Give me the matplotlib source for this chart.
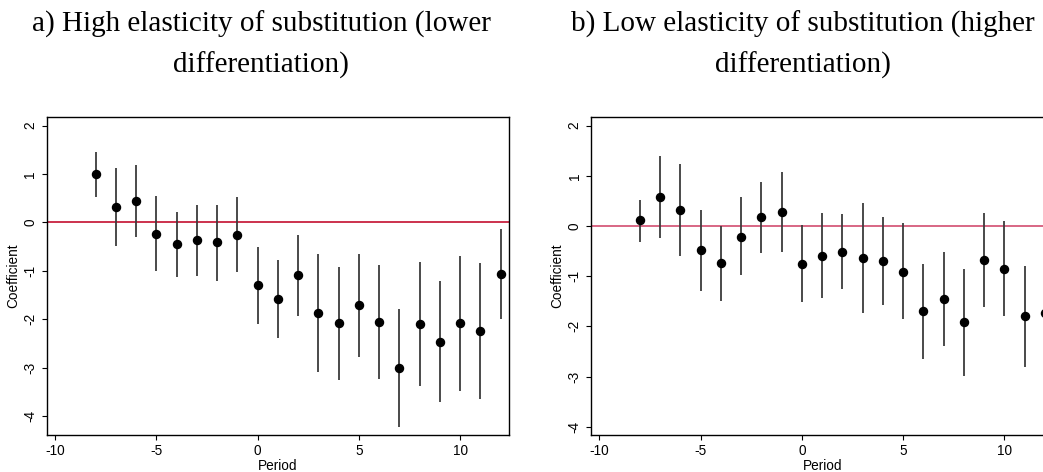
import matplotlib
matplotlib.use("Agg")
import matplotlib.pyplot as plt
import numpy as np

# Event-study periods
periods = list(range(-8, 13))

# a) High elasticity of substitution
coef_a = [0.99, 0.32, 0.44, -0.23, -0.45, -0.37, -0.41, -0.25, -1.30, -1.58, -1.09,
          -1.86, -2.08, -1.71, -2.05, -3.01, -2.10, -2.46, -2.08, -2.24, -1.06]
upper_a = [1.445, 1.13, 1.19, 0.54, 0.22, 0.36, 0.37, 0.52, -0.51, -0.77, -0.25,
           -0.65, -0.92, -0.66, -0.87, -1.79, -0.82, -1.20, -0.69, -0.84, -0.13]
lower_a = [0.53, -0.48, -0.30, -1.01, -1.13, -1.11, -1.20, -1.03, -2.09, -2.38, -1.93,
           -3.08, -3.25, -2.77, -3.23, -4.22, -3.38, -3.70, -3.47, -3.64, -1.99]

# b) Low elasticity of substitution
coef_b = [0.11, 0.58, 0.31, -0.48, -0.74, -0.21, 0.18, 0.27, -0.75, -0.59, -0.51,
          -0.64, -0.70, -0.91, -1.70, -1.46, -1.92, -0.68, -0.85, -1.80, -1.74]
upper_b = [0.52, 1.39, 1.23, 0.32, 0.00, 0.57, 0.88, 1.08, 0.02, 0.25, 0.24,
           0.46, 0.18, 0.05, -0.76, -0.52, -0.86, 0.26, 0.09, -0.79, -0.80]
lower_b = [-0.31, -0.24, -0.60, -1.29, -1.49, -0.98, -0.53, -0.52, -1.51, -1.43, -1.26,
           -1.74, -1.58, -1.86, -2.64, -2.40, -2.98, -1.62, -1.79, -2.80, -2.70]

x_ticks = [-10, -5, 0, 5, 10]
y_ticks = [-4, -3, -2, -1, 0, 1, 2]

titles = [("a) High elasticity of substitution (lower", "differentiation)"),
          ("b) Low elasticity of substitution (higher", "differentiation)")]

plt.rcParams["font.family"] = ["Liberation Sans", "DejaVu Sans"]

fig = plt.figure(figsize=(10.43, 4.72), dpi=100)
W, H = 1043, 472


def px_axes(left, top, right, bottom):
    return fig.add_axes([left / W, 1 - bottom / H, (right - left) / W, (bottom - top) / H])


ax_a = px_axes(47, 117.3, 509, 434.7)
ax_b = px_axes(591.3, 117.3, 1053.3, 434.7)

panels = [
    (ax_a, coef_a, upper_a, lower_a, (-4.38, 2.17), "#c8213f"),
    (ax_b, coef_b, upper_b, lower_b, (-4.157, 2.165), "#d65a7b"),
]

for ax, c, up, lo, ylim, zero_col in panels:
    ax.axhline(0, color=zero_col, lw=1.3, zorder=1)
    ax.vlines(periods, lo, up, color="#3c3c3c", lw=1.3, zorder=2)
    ax.plot(periods, c, "o", color="black", ms=5.8, zorder=3)
    ax.set_xlim(-10.4, 12.41)
    ax.set_ylim(*ylim)
    ax.set_xticks(x_ticks)
    ax.set_xticklabels([str(v) for v in x_ticks])
    ax.set_yticks(y_ticks)
    ax.set_yticklabels([str(v) for v in y_ticks], rotation=90, va="center")
    ax.tick_params(axis="both", direction="out", length=3.6, width=0.8,
                   labelsize=9.8, color="black", pad=3.3)
    for sp in ax.spines.values():
        sp.set_linewidth(1.0)
        sp.set_color("black")
    ax.set_xlabel("Period", fontsize=9.8, labelpad=0.3)
    ax.set_ylabel("Coefficient", fontsize=9.8, labelpad=2.5)

# Two-line panel headings
centers = [261 / W, 803 / W]
for xc, (l1, l2) in zip(centers, titles):
    fig.text(xc, 1 - 32 / H, l1, ha="center", va="baseline",
             family=["Liberation Serif", "DejaVu Serif"], fontsize=21)
    fig.text(xc, 1 - 72.7 / H, l2, ha="center", va="baseline",
             family=["Liberation Serif", "DejaVu Serif"], fontsize=21)

fig.savefig("out.png", dpi=100)
